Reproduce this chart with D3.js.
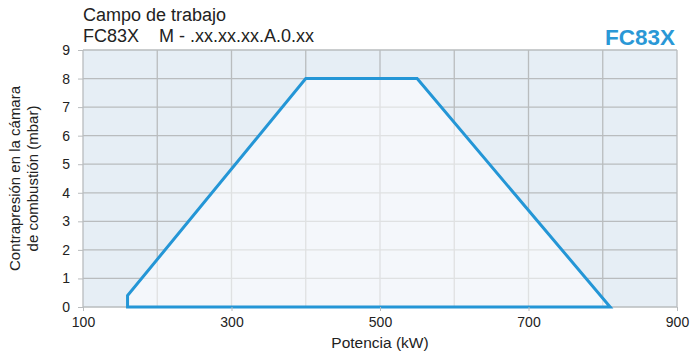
<!DOCTYPE html>
<html><head><meta charset="utf-8">
<script src="https://cdn.jsdelivr.net/npm/d3@7"></script>
<style>body{margin:0;background:#fff;} text{font-family:"Liberation Sans",Arial,sans-serif;}</style>
</head><body>
<svg id="c" width="691" height="356"></svg>
<script>
const powerKW = [160, 160, 400, 550, 810];
const pressureMbar = [0, 0.4, 8, 8, 0];
const xTicks = [100, 300, 500, 700, 900];
const xGrid = [100, 200, 300, 400, 500, 600, 700, 800, 900];
const yTicks = [0, 1, 2, 3, 4, 5, 6, 7, 8, 9];

const svg = d3.select("#c");
const L = 83, R = 677, T = 50, B = 307;
const x = d3.scaleLinear().domain([100, 900]).range([L, R]);
const y = d3.scaleLinear().domain([0, 9]).range([B, T]);

svg.append("rect").attr("x", L).attr("y", T).attr("width", R - L).attr("height", B - T).attr("fill", "#e6eef5");

const g = svg.append("g");
g.selectAll(".vg").data(xGrid).join("line")
  .attr("x1", d => x(d)).attr("x2", d => x(d)).attr("y1", T).attr("y2", B)
  .attr("stroke", "#b9bcbe").attr("stroke-width", 1.3);
g.selectAll(".hg").data(yTicks).join("line")
  .attr("x1", L).attr("x2", R).attr("y1", d => y(d)).attr("y2", d => y(d))
  .attr("stroke", "#b9bcbe").attr("stroke-width", 1.3);

const pts = powerKW.map((p, i) => [x(p), y(pressureMbar[i])]);
const line = d3.line().curve(d3.curveLinearClosed);
svg.append("path").attr("d", line(pts)).attr("fill", "#ffffff").attr("fill-opacity", 0.55)
  .attr("stroke", "#2496d6").attr("stroke-width", 3).attr("stroke-linejoin", "miter");

// axes
const yAxis = d3.axisLeft(y).tickValues(yTicks).tickSize(5).tickFormat(d3.format("d"));
const ya = svg.append("g").attr("transform", `translate(${L},0)`).call(yAxis);
ya.select(".domain").remove();
ya.selectAll("line").attr("stroke", "#b9bcbe");
ya.selectAll("text").attr("font-size", 14).attr("fill", "#222").attr("x", -13);

const xAxis = d3.axisBottom(x).tickValues(xTicks).tickSize(4).tickFormat(d3.format("d"));
const xa = svg.append("g").attr("transform", `translate(0,${B})`).call(xAxis);
xa.select(".domain").remove();
xa.selectAll("line").attr("stroke", "#b9bcbe");
xa.selectAll("text").attr("font-size", 14).attr("fill", "#222").attr("dy", "0.9em");

svg.append("text").attr("x", (L + R) / 2).attr("y", 348).attr("text-anchor", "middle")
  .attr("font-size", 15.5).attr("fill", "#222").text("Potencia (kW)");

const yl = svg.append("text").attr("transform", `translate(0,${(T + B) / 2}) rotate(-90)`)
  .attr("text-anchor", "middle").attr("font-size", 15).attr("fill", "#222");
yl.append("tspan").attr("x", 0).attr("y", 20).text("Contrapresión en la cámara");
yl.append("tspan").attr("x", 0).attr("y", 38).text("de combustión (mbar)");

svg.append("text").attr("x", L).attr("y", 21).attr("font-size", 18).attr("fill", "#222").text("Campo de trabajo");
svg.append("text").attr("x", L).attr("y", 42).attr("font-size", 18).attr("fill", "#222")
  .attr("xml:space", "preserve").style("white-space", "pre").text("FC83X    M - .xx.xx.xx.A.0.xx");
svg.append("text").attr("x", R - 2).attr("y", 45).attr("text-anchor", "end").attr("font-size", 22.5)
  .attr("font-weight", "bold").attr("fill", "#2a98d6").text("FC83X");
</script>
</body></html>
